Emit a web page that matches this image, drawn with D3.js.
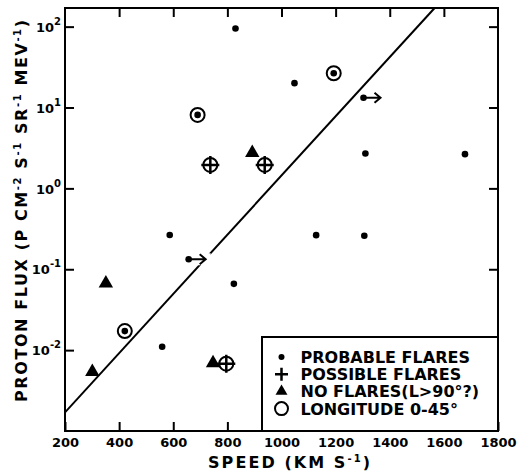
<!DOCTYPE html>
<html>
<head>
<meta charset="utf-8">
<script src="https://cdn.jsdelivr.net/npm/d3@7"></script>
<style>
  body { margin: 0; background: #fff; }
  text { font-family: "DejaVu Sans", sans-serif; font-weight: bold; fill: #000; }
</style>
</head>
<body>
<svg id="chart" width="520" height="471"></svg>
<script>
// axis ranges and ticks
const speedDomain = [200, 1800];
const fluxDomain = [1e-3, 170];
const speedTicks = [200, 400, 600, 800, 1000, 1200, 1400, 1600, 1800];
const fluxExponents = [-2, -1, 0, 1, 2];

// [speed km/s, proton flux]
const probableFlares = [
  [830, 95], [1048, 20], [1310, 2.7], [1678, 2.65], [1128, 0.264],
  [1306, 0.26], [587, 0.265], [824, 0.066], [559, 0.011]
];
// probable flares given as lower limits on speed (dot + arrow)
const probableLowerLimits = [[1303, 13.2], [657, 0.133]];
const longitudeProbable = [[690, 8.1], [1193, 26.5], [421, 0.0172]];
const longitudePossible = [[737, 1.95], [938, 1.95], [796, 0.0068]];
const noFlares = [[892, 2.75], [351, 0.067], [301, 0.0054], [747, 0.0069]];
const fitLine = [[200, 0.0017], [1565, 169]];

const legendLabels = ['PROBABLE FLARES', 'POSSIBLE FLARES', 'NO FLARES(L>90°?)', 'LONGITUDE 0-45°'];
const legendKinds = ['dot', 'plus', 'triangle', 'circle'];

const width = 520, height = 471;
const margin = {top: 8, right: 22, bottom: 40, left: 65};
const svg = d3.select('#chart');

const x = d3.scaleLinear().domain(speedDomain).range([margin.left, width - margin.right]);
const y = d3.scaleLog().domain(fluxDomain).range([height - margin.bottom, margin.top]);

const plotW = width - margin.left - margin.right;
const plotH = height - margin.top - margin.bottom;

svg.append('clipPath').attr('id', 'plot-clip')
  .append('rect')
  .attr('x', margin.left).attr('y', margin.top)
  .attr('width', plotW).attr('height', plotH);

// superscript helper
function addParts(textSel, parts, supSize, shift) {
  parts.forEach(p => {
    const t = textSel.append('tspan').text(p[0]);
    if (p[1]) t.attr('font-size', supSize).attr('dy', -shift);
    else if (p[2]) t.attr('dy', shift);
  });
}

// Axes (ticks pointing inward)
const tickLen = 9;
const yTicks = fluxExponents.map(e => Math.pow(10, e));

const bottomAxis = svg.append('g')
  .attr('transform', `translate(0,${height - margin.bottom})`)
  .call(d3.axisBottom(x).tickValues(speedTicks).tickSize(-tickLen).tickPadding(7).tickFormat(d3.format('d')));
const topAxis = svg.append('g')
  .attr('transform', `translate(0,${margin.top})`)
  .call(d3.axisTop(x).tickValues(speedTicks.slice(1, -1)).tickSize(-tickLen).tickFormat(''));
const leftAxis = svg.append('g')
  .attr('transform', `translate(${margin.left},0)`)
  .call(d3.axisLeft(y).tickValues(yTicks).tickSize(-tickLen).tickPadding(4).tickFormat(''));
const rightAxis = svg.append('g')
  .attr('transform', `translate(${width - margin.right},0)`)
  .call(d3.axisRight(y).tickValues(yTicks).tickSize(-tickLen).tickFormat(''));

[bottomAxis, topAxis, leftAxis, rightAxis].forEach(g => {
  g.attr('font-family', null).attr('font-size', null);
  g.select('.domain').remove();
  g.selectAll('.tick line').attr('stroke', '#000').attr('stroke-width', 2);
});
bottomAxis.selectAll('.tick text').attr('font-size', 13);

// y tick labels as 10^n
leftAxis.selectAll('.tick text')
  .attr('font-size', 13)
  .attr('dy', '0.36em')
  .each(function(d) {
    const e = Math.round(Math.log10(d));
    const t = d3.select(this).text('');
    t.append('tspan').text('10');
    t.append('tspan').attr('font-size', 10).attr('dy', -7).text(e);
  });

// frame
svg.append('rect')
  .attr('x', margin.left).attr('y', margin.top)
  .attr('width', plotW).attr('height', plotH)
  .attr('fill', 'none').attr('stroke', '#000').attr('stroke-width', 2);

// fitted line
svg.append('path')
  .datum(fitLine)
  .attr('clip-path', 'url(#plot-clip)')
  .attr('fill', 'none').attr('stroke', '#000').attr('stroke-width', 2)
  .attr('d', d3.line().x(d => x(d[0])).y(d => y(d[1])));

const marks = svg.append('g');

// symbol drawers
function drawDot(g, r) {
  g.append('circle').attr('r', r).attr('fill', '#000');
}
function drawCircle(g, r) {
  g.append('circle').attr('r', r).attr('fill', '#fff').attr('stroke', '#000').attr('stroke-width', 2);
}
function drawPlus(g, half) {
  g.append('path').attr('d', `M${-half},0H${half}M0,${-half}V${half}`)
    .attr('stroke', '#000').attr('stroke-width', 2.5);
}
function drawTriangle(g, size) {
  g.append('path').attr('d', d3.symbol(d3.symbolTriangle, size)()).attr('fill', '#000');
}

probableFlares.forEach(d => {
  drawDot(marks.append('g').attr('transform', `translate(${x(d[0])},${y(d[1])})`), 3.3);
});

probableLowerLimits.forEach(d => {
  const g = marks.append('g').attr('transform', `translate(${x(d[0])},${y(d[1])})`);
  g.append('rect').attr('x', 2).attr('y', -6).attr('width', 20).attr('height', 12).attr('fill', '#fff');
  drawDot(g, 3.3);
  g.append('path').attr('d', 'M0,0H17M11,-5L17,0L11,5')
    .attr('fill', 'none').attr('stroke', '#000').attr('stroke-width', 2);
});

longitudeProbable.forEach(d => {
  const g = marks.append('g').attr('transform', `translate(${x(d[0])},${y(d[1])})`);
  drawCircle(g, 7);
  drawDot(g, 3.3);
});

longitudePossible.forEach(d => {
  const g = marks.append('g').attr('transform', `translate(${x(d[0])},${y(d[1])})`);
  drawCircle(g, 7);
  drawPlus(g, 9);
});

noFlares.forEach(d => {
  drawTriangle(marks.append('g').attr('transform', `translate(${x(d[0])},${y(d[1])})`), 90);
});

// legend box (bottom-right corner of the plot)
const legend = svg.append('g');
const lgX = 262, lgY = 337;
const lgW = width - margin.right - lgX, lgH = height - margin.bottom - lgY;
legend.append('rect')
  .attr('x', lgX).attr('y', lgY)
  .attr('width', lgW).attr('height', lgH)
  .attr('fill', '#fff').attr('stroke', '#000').attr('stroke-width', 2);

legendLabels.forEach((label, i) => {
  const rowY = lgY + 20 + i * 17.2;
  const g = legend.append('g').attr('transform', `translate(${lgX + 19.5},${rowY})`);
  if (legendKinds[i] === 'dot') drawDot(g, 3);
  if (legendKinds[i] === 'plus') drawPlus(g, 6.5);
  if (legendKinds[i] === 'triangle') drawTriangle(g, 62);
  if (legendKinds[i] === 'circle') drawCircle(g, 6.5);
  legend.append('text')
    .attr('x', lgX + 38.5).attr('y', rowY + 6)
    .attr('font-size', 16)
    .text(label);
});

// axis titles
const xTitle = svg.append('text')
  .attr('x', 289).attr('y', 468)
  .attr('text-anchor', 'middle')
  .attr('font-size', 16)
  .attr('textLength', 162).attr('lengthAdjust', 'spacing');
addParts(xTitle, [['SPEED (KM S'], ['-1', true], [')', false, true]], 10, 6);

const yTitle = svg.append('text')
  .attr('transform', 'translate(27,211) rotate(-90)')
  .attr('text-anchor', 'middle')
  .attr('font-size', 16)
  .attr('textLength', 382).attr('lengthAdjust', 'spacing');
addParts(yTitle, [
  ['PROTON FLUX (P CM'], ['-2', true], [' S', false, true], ['-1', true],
  [' SR', false, true], ['-1', true], [' MEV', false, true], ['-1', true], [')', false, true]
], 10, 6);
</script>
</body>
</html>
